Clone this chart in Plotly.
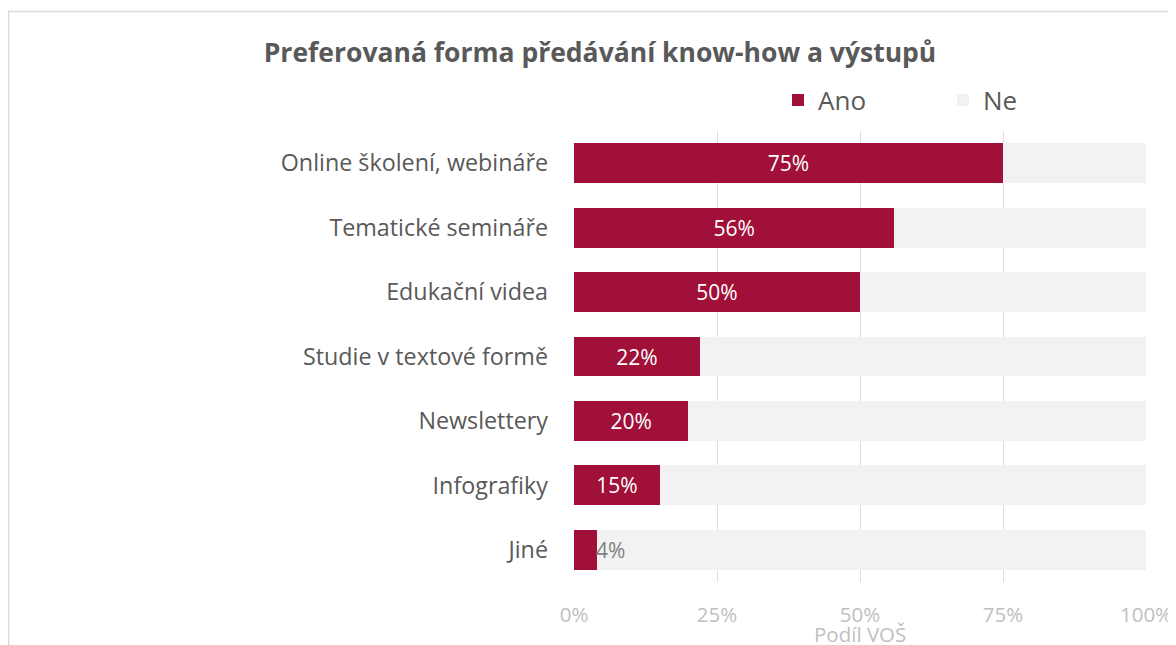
import plotly.graph_objects as go

categories = ["Online školení, webináře", "Tematické semináře", "Edukační videa",
              "Studie v textové formě", "Newslettery", "Infografiky", "Jiné"]
ano = [75, 56, 50, 22, 20, 15, 4]
ne = [25, 44, 50, 78, 80, 85, 96]
tick_vals = [0, 25, 50, 75, 100]
tick_text = ["0%", "25%", "50%", "75%", "100%"]
title_text = "Preferovaná forma předávání know-how a výstupů"
x_title = "Podíl VOŠ"

FONT = "Open Sans"
RED = "#A01038"
NE_COL = "#F2F2F2"
OFF = 8  # page body margin offset

inside_text = [f"{v}%" if v >= 10 else "" for v in ano]

fig = go.Figure()
fig.add_trace(go.Bar(
    y=categories, x=ano, name="Ano", orientation="h",
    marker=dict(color=RED, line=dict(width=0)),
    text=inside_text, textposition="inside", insidetextanchor="middle",
    textangle=0, textfont=dict(color="white", size=21, family=FONT),
    hoverinfo="skip",
))
fig.add_trace(go.Bar(
    y=categories, x=ne, name="Ne", orientation="h",
    marker=dict(color=NE_COL, line=dict(width=0)),
    hoverinfo="skip",
))

for c, v in zip(categories, ano):
    if v < 10:
        fig.add_annotation(x=v, y=c, text=f"{v}%", showarrow=False,
                           xanchor="left", yanchor="middle", xshift=-3,
                           font=dict(color="#808080", size=21, family=FONT))

W, H = 1176 - OFF, 645 - OFF
L, T = 574 - OFF, 131 - OFF
R = W - (1146 - OFF)
B = H - (582 - OFF)
pw = W - L - R
ph = H - T - B

fig.add_shape(type="rect", xref="paper", yref="paper",
              x0=(8.5 - OFF - L) / pw, x1=(W + 20 - L) / pw,
              y0=-(B + 20) / ph, y1=1 + (T - (11.5 - OFF)) / ph,
              line=dict(color="#d9d9d9", width=1.5), fillcolor="rgba(0,0,0,0)",
              layer="below")

# x-axis title as annotation below tick labels
fig.add_annotation(x=0.5, y=-(634 - 582) / ph, xref="paper", yref="paper",
                   text=x_title, showarrow=False, xanchor="center", yanchor="middle",
                   font=dict(size=20.5, color="#bfbfbf", family=FONT))

fig.update_layout(
    width=W, height=H,
    margin=dict(l=L, r=R, t=T, b=B, pad=0, autoexpand=False),
    paper_bgcolor="white", plot_bgcolor="white",
    barmode="stack", bargap=0.38,
    font=dict(family=FONT, color="#595959"),
    title=dict(text=f"<b>{title_text}</b>", x=(600 - OFF) / W, xanchor="center",
               y=1 - (53 - OFF) / H, yanchor="middle",
               font=dict(size=26.5, color="#595959", family=FONT)),
    legend=dict(orientation="h", x=(778 - OFF - L) / pw, xanchor="left",
                y=1 + (T - (100 - OFF)) / ph, yanchor="middle",
                font=dict(size=26, color="#595959", family=FONT),
                entrywidth=120, entrywidthmode="pixels",
                traceorder="normal", bgcolor="rgba(0,0,0,0)"),
    showlegend=True,
)
fig.update_xaxes(range=[0, 100], tickvals=tick_vals, ticktext=tick_text,
                 showgrid=True, gridcolor="#dedede", gridwidth=1,
                 zeroline=False, showline=False, ticks="",
                 ticklabelstandoff=18,
                 tickfont=dict(size=20.5, color="#bfbfbf", family=FONT))
fig.update_yaxes(autorange="reversed", showgrid=False, ticks="",
                 ticklabelstandoff=25, showline=False,
                 tickfont=dict(size=23.3, color="#595959", family=FONT))

fig.write_html("out.html")
